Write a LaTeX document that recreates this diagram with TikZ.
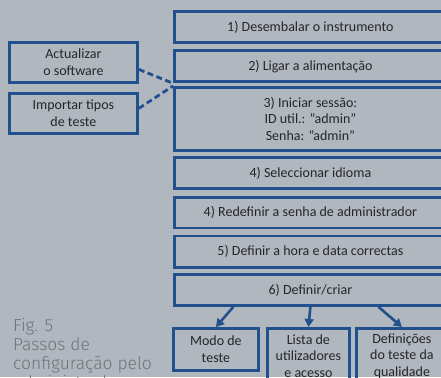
\documentclass[tikz,border=0pt]{standalone}
\usepackage{fontspec}
\setmainfont{Carlito}
\newfontfamily\capfont{Fira Sans Light}
\usepackage{tikz}
\usetikzlibrary{arrows.meta, calc}
\definecolor{bgcol}{RGB}{176,183,190}
\definecolor{boxblue}{RGB}{33,80,140}
\definecolor{txtcol}{RGB}{38,38,38}
\definecolor{capcol}{RGB}{112,117,122}
\tikzset{
  stepbox/.style={draw=boxblue, line width=2.8pt, rectangle, anchor=north west,
    inner sep=0pt, text=txtcol, align=center, font=\fontsize{14}{16.5}\selectfont},
  linkdash/.style={draw=boxblue, line width=2.8pt, dash pattern=on 6pt off 3.5pt},
  flowarrow/.style={draw=boxblue, line width=2.6pt, -{Triangle[length=8pt, width=9pt]}},
  captext/.style={anchor=north west, inner sep=0pt, align=left, text=capcol,
    font=\capfont\fontsize{17.5}{19}\selectfont}
}

\begin{document}
\begin{tikzpicture}[x=1pt, y=-1pt]
  \fill[bgcol] (0,0) rectangle (441,377);
  \useasboundingbox (0,0) rectangle (441,377);
  \clip (0,0) rectangle (441,377);
  \node[stepbox, minimum width=272pt, minimum height=31.5pt] (s1) at (173,10) {1) Desembalar o instrumento};
  \node[stepbox, minimum width=272pt, minimum height=31pt] (s2) at (173,49.5) {2) Ligar a alimentação};
  \node[stepbox, minimum width=272pt, minimum height=63pt] (s3) at (173,86) {3) Iniciar sessão:\\ID util.: ”admin”\\Senha: ”admin”};
  \node[stepbox, minimum width=272pt, minimum height=31pt] (s4) at (173,156) {4) Seleccionar idioma};
  \node[stepbox, minimum width=272pt, minimum height=30.5pt] (s4r) at (173,196) {4) Redefinir a senha de administrador};
  \node[stepbox, minimum width=272pt, minimum height=31.5pt] (s5) at (173,234.5) {5) Definir a hora e data correctas};
  \node[stepbox, minimum width=272pt, minimum height=31pt] (s6) at (173,273) {6) Definir/criar};
  \node[stepbox, minimum width=128pt, minimum height=40pt] (act) at (8,41) {Actualizar\\o software};
  \node[stepbox, minimum width=128pt, minimum height=40pt] (imp) at (8,92) {Importar tipos\\de teste};
  \node[stepbox, minimum width=85pt, minimum height=42pt] (modo) at (172,327) {Modo de\\teste};
  \node[stepbox, minimum width=82pt, minimum height=55pt] (lista) at (266,327) {Lista de\\utilizadores\\e acesso};
  \node[stepbox, minimum width=91pt, minimum height=55pt] (defs) at (355,327) {Definições\\do teste da\\qualidade};
  \draw[linkdash] ([yshift=-7pt]act.east) -- (s2.south west);
  \draw[linkdash] ([yshift=5pt]imp.east) -- (s3.north west);
  \draw[flowarrow] ([xshift=-77pt]s6.south) -- (modo.north);
  \draw[flowarrow] (s6.south) -- (lista.north);
  \draw[flowarrow] ([xshift=68pt]s6.south) -- (defs.north);
  \node[captext] (cap) at (13,318) {Fig. 5\\Passos de\\configuração pelo\\administrador};
\end{tikzpicture}
\end{document}
